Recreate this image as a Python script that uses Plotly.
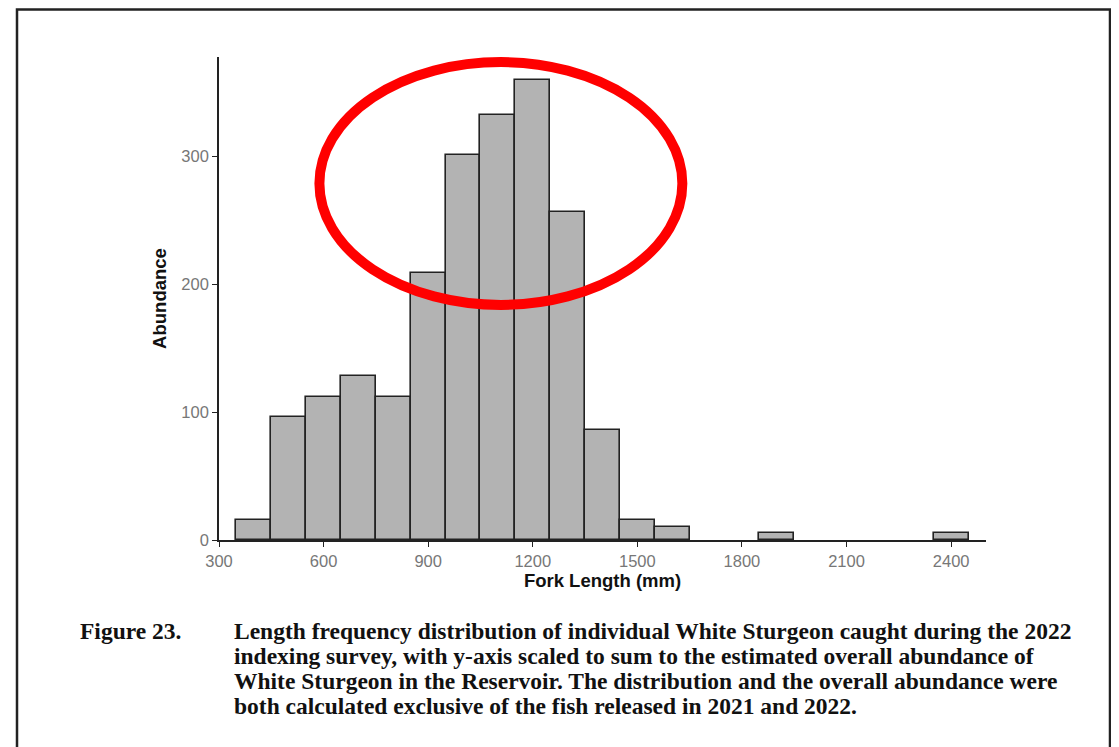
import plotly.graph_objects as go

# histogram bins (centres, mm) and heights (abundance)
bin_centres = [400, 500, 600, 700, 800, 900, 1000, 1100, 1200, 1300, 1400, 1500, 1600, 1900, 2400]
abundance = [16, 96, 112, 128, 112, 209, 301, 333, 360, 257, 86, 16, 10.5, 5.7, 5.7]

x_ticks = [300, 600, 900, 1200, 1500, 1800, 2100, 2400]
y_ticks = [0, 100, 200, 300]

caption_label = "Figure 23."
caption_lines = [
    "Length frequency distribution of individual White Sturgeon caught during the 2022",
    "indexing survey, with y-axis scaled to sum to the estimated overall abundance of",
    "White Sturgeon in the Reservoir. The distribution and the overall abundance were",
    "both calculated exclusive of the fish released in 2021 and 2022.",
]

# the page body adds an 8px margin, so the figure is 8px smaller than the window
OFF = 8
W, H = 1119 - OFF, 747 - OFF
L, R, T, B = 219 - OFF, 133, 57 - OFF, 207
plot_w = W - L - R
plot_h = H - T - B


def px_x(p):
    # p is a window pixel position
    return (p - OFF - L) / plot_w


def px_y(p):
    return (H - B - (p - OFF)) / plot_h


fig = go.Figure()
fig.add_trace(go.Bar(
    x=bin_centres, y=abundance, width=100,
    marker=dict(color="#b3b3b3", line=dict(color="#222222", width=1.6)),
    showlegend=False,
))

axis_font = dict(family="Liberation Sans, Arial", size=16.5, color="#777777")
title_font = dict(family="Liberation Sans, Arial", size=18.5, color="#111111")

fig.update_xaxes(
    range=[300, 2500], tickvals=x_ticks, showgrid=False, zeroline=False,
    showline=True, linecolor="#222222", linewidth=1.6,
    ticks="outside", ticklen=5, tickcolor="#222222", tickwidth=1.4,
    tickfont=axis_font,
    title=dict(text="<b>Fork Length (mm)</b>", font=title_font, standoff=4),
)
fig.update_yaxes(
    range=[0, 378], tickvals=y_ticks, showgrid=False, zeroline=False,
    showline=True, linecolor="#222222", linewidth=1.6,
    ticks="outside", ticklen=5, tickcolor="#222222", tickwidth=1.4,
    tickfont=axis_font,
    title=dict(text="<b>Abundance</b>", font=title_font, standoff=10),
)

# red highlight ellipse around the peak
fig.add_shape(type="circle", xref="x", yref="y",
              x0=588, x1=1629, y0=184, y1=374,
              line=dict(color="#ff0000", width=10), layer="above")

# page frame (top edge kept just inside the figure so it is not clipped)
fig.add_shape(type="rect", xref="paper", yref="paper",
              x0=px_x(17), x1=px_x(1110), y0=px_y(780), y1=px_y(9.5),
              line=dict(color="#222222", width=2.5), layer="below")

serif = dict(family="Liberation Serif, Times New Roman", size=23.5, color="#111111")
fig.add_annotation(text="<b>" + caption_label + "</b>", xref="paper", yref="paper",
                   x=px_x(78), y=px_y(631), xanchor="left", yanchor="middle",
                   showarrow=False, font=serif)
for i, line in enumerate(caption_lines):
    fig.add_annotation(text="<b>" + line + "</b>", xref="paper", yref="paper",
                       x=px_x(232), y=px_y(631 + 25 * i), xanchor="left", yanchor="middle",
                       showarrow=False, font=serif)

fig.update_layout(
    width=W, height=H,
    margin=dict(l=L, r=R, t=T, b=B),
    paper_bgcolor="white", plot_bgcolor="white",
    bargap=0,
)

fig.write_html("out.html")
